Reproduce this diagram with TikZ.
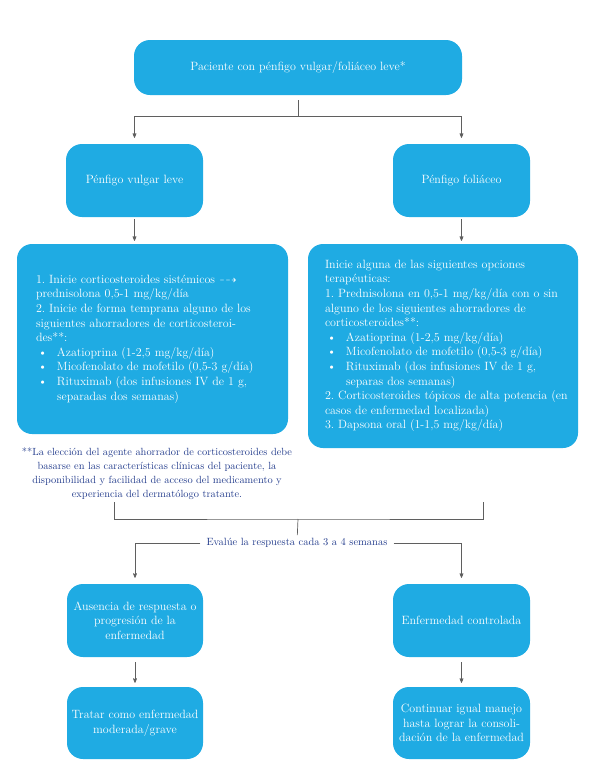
\documentclass[tikz,border=0pt]{standalone}
\usepackage{fontspec}
\usepackage{amssymb}
\usetikzlibrary{arrows}
\definecolor{boxblue}{RGB}{31,171,227}
\definecolor{linegray}{RGB}{95,95,95}
\definecolor{noteblue}{RGB}{35,60,140}
\newcommand{\bpoint}{\makebox[21pt][l]{\hspace{2pt}\textbullet}}
\newcommand{\bcont}{\hspace*{21pt}}
\frenchspacing
\tikzset{
 box/.style={fill=boxblue, text=white, rounded corners=16pt, align=center, inner sep=0pt,
   font=\fontsize{12}{14.6}\selectfont},
 bigbox/.style={box, align=left, rounded corners=15pt},
 note/.style={text=noteblue, align=center, inner sep=0pt, font=\fontsize{10.4}{14}\selectfont},
 conn/.style={draw=linegray, line width=.7pt},
 arr/.style={conn, ->, >=stealth', shorten >=5pt},
}
\begin{document}
\begin{tikzpicture}[x=1pt, y=-1pt]
\useasboundingbox (0,0) rectangle (600,780);
% first level
\node[box, minimum width=328pt, minimum height=55pt] (paciente) at (298,67.5) {Paciente con pénfigo vulgar/foliáceo leve*};
\node[box, minimum width=137pt, minimum height=73pt] (vulgar) at (134.5,180.5) {Pénfigo vulgar leve};
\node[box, minimum width=137pt, minimum height=73pt] (foliaceo) at (461.5,180.5) {Pénfigo foliáceo};
\coordinate (split) at (298,116);
\draw[conn, shorten <=5pt] (paciente) -- (split);
\foreach \n in {vulgar, foliaceo}
 \draw[arr, shorten >=6pt] (split) -| (\n.north);
% treatment boxes
\node[bigbox, text width=233pt, minimum height=190pt, inner xsep=19pt] (tratvulgar) at (152.5,339) {%
1. Inicie corticosteroides sistémicos $\dashrightarrow$\\
prednisolona 0,5-1 mg/kg/día\\
2. Inicie de forma temprana alguno de los\\
siguientes ahorradores de corticosteroi-\\
des**:\\
\bpoint Azatioprina (1-2,5 mg/kg/día)\\
\bpoint Micofenolato de mofetilo (0,5-3 g/día)\\
\bpoint Rituximab (dos infusiones IV de 1 g,\\
\bcont separadas dos semanas)};
\node[bigbox, text width=236pt, minimum height=204pt, inner xsep=17pt] (tratfolia) at (443,346) {%
Inicie alguna de las siguientes opciones\\
terapéuticas:\\
1. Prednisolona en 0,5-1 mg/kg/día con o sin\\
alguno de los siguientes ahorradores de\\
corticosteroides**:\\
\bpoint Azatioprina (1-2,5 mg/kg/día)\\
\bpoint Micofenolato de mofetilo (0,5-3 g/día)\\
\bpoint Rituximab (dos infusiones IV de 1 g,\\
\bcont separas dos semanas)\\
\mbox{2. Corticosteroides tópicos de alta potencia (en}\\
casos de enfermedad localizada)\\
3. Dapsona oral (1-1,5 mg/kg/día)};
\draw[arr, shorten <=2pt, shorten >=3pt] (vulgar.south) -- (vulgar.south |- tratvulgar.north);
\draw[arr, shorten <=2pt, shorten >=3pt] (foliaceo.south) -- (foliaceo.south |- tratfolia.north);
\node[note] (nota) at (157,474) {**La elección del agente ahorrador de corticosteroides debe\\
basarse en las características clínicas del paciente, la\\
disponibilidad y facilidad de acceso del medicamento y\\
experiencia del dermatólogo tratante.};
% evaluation
\coordinate (brL) at (114,502);
\coordinate (brR) at (483,502);
\coordinate (join) at (298,519);
\draw[conn] (brL) |- (join) -| (brR);
\node[note, inner xsep=6pt, inner ysep=3pt, font=\fontsize{10.5}{13}\selectfont] (evalua) at (297,543) {Evalúe la respuesta cada 3 a 4 semanas};
\draw[conn] (join) -- (evalua);
% outcomes
\node[box, minimum width=136pt, minimum height=73pt] (ausencia) at (135,620.5) {Ausencia de respuesta o\\progresión de la\\enfermedad};
\node[box, minimum width=137pt, minimum height=73pt] (controlada) at (461.5,620.5) {Enfermedad controlada};
\node[box, minimum width=136pt, minimum height=72pt] (tratar) at (135,723) {Tratar como enfermedad\\moderada/grave};
\node[box, minimum width=137pt, minimum height=72pt] (continuar) at (461.5,723) {Continuar igual manejo\\hasta lograr la consoli-\\dación de la enfermedad};
\draw[arr, shorten >=6pt] (evalua) -| (ausencia.north);
\draw[arr, shorten >=6pt] (evalua) -| (controlada.north);
\draw[arr, shorten <=5pt, shorten >=4pt] (ausencia) -- (tratar);
\draw[arr, shorten <=5pt, shorten >=4pt] (controlada) -- (continuar);
\end{tikzpicture}
\end{document}
